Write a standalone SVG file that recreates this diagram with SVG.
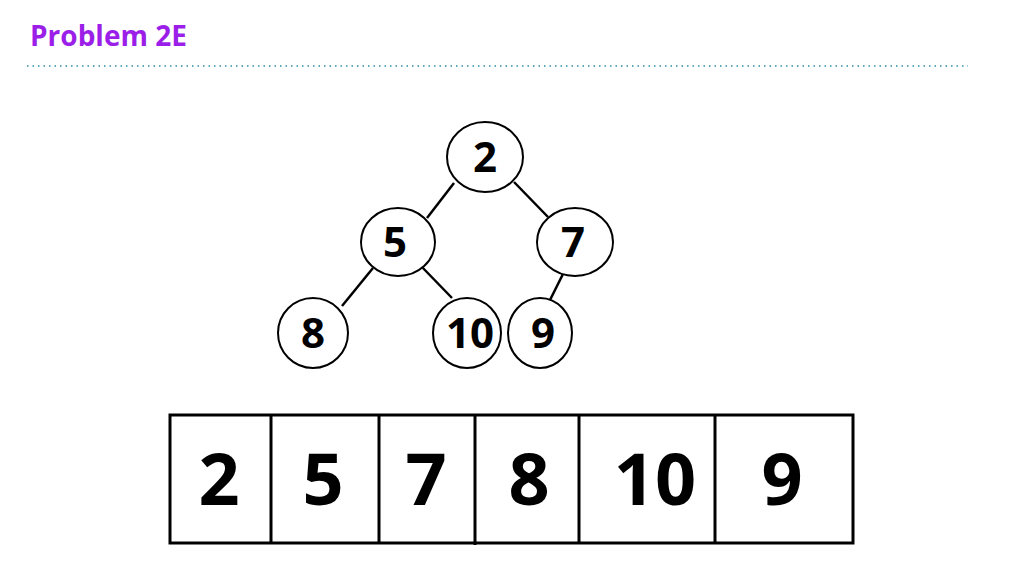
<svg xmlns="http://www.w3.org/2000/svg" width="1024" height="576" viewBox="0 0 1024 576">
<style>
.n ellipse{fill:#fff;stroke:#000;stroke-width:2}
.n text{font-family:"Open Sans","Liberation Sans",sans-serif;font-weight:bold;font-size:42px;text-anchor:middle;fill:#000}
.c line{stroke:#000;stroke-width:2.5}
.cell rect{fill:#fff;stroke:#000;stroke-width:3}
.cell text{font-family:"Open Sans","Liberation Sans",sans-serif;font-weight:bold;font-size:72px;text-anchor:middle;fill:#000}
</style>
<rect width="1024" height="576" fill="#fff"/>
<text x="30" y="46" font-family="Open Sans,Liberation Sans,sans-serif" font-weight="bold" font-size="28" fill="#9b1fe8">Problem 2E</text>
<line x1="27" y1="66" x2="968" y2="66" stroke="#2e8ea8" stroke-width="1.5" stroke-dasharray="1.5 4"/>
<g class="c">
<line x1="454" y1="183" x2="427" y2="218"/>
<line x1="514" y1="182" x2="548" y2="217"/>
<line x1="373" y1="268" x2="342" y2="306"/>
<line x1="421" y1="266" x2="452" y2="298"/>
<line x1="563" y1="274" x2="549" y2="302"/>
</g>
<g id="n2" class="n"><ellipse cx="485" cy="157" rx="38" ry="35"/><text x="485" y="172">2</text></g>
<g id="n5" class="n"><ellipse cx="398" cy="242" rx="37" ry="34"/><text x="395" y="257">5</text></g>
<g id="n7" class="n"><ellipse cx="575" cy="242" rx="38" ry="34"/><text x="573" y="257">7</text></g>
<g id="n8" class="n"><ellipse cx="313" cy="333" rx="35" ry="35"/><text x="313" y="348">8</text></g>
<g id="n10" class="n"><ellipse cx="467" cy="333" rx="34" ry="35"/><text x="470" y="348">10</text></g>
<g id="n9" class="n"><ellipse cx="540" cy="333" rx="32" ry="35"/><text x="543" y="348">9</text></g>
<g id="array" class="cell">
<rect x="170" y="415" width="683" height="128"/>
<line x1="271" y1="415" x2="271" y2="543" stroke="#000" stroke-width="3"/>
<line x1="379" y1="415" x2="379" y2="543" stroke="#000" stroke-width="3"/>
<line x1="475" y1="415" x2="475" y2="545" stroke="#000" stroke-width="3"/>
<line x1="579" y1="415" x2="579" y2="543" stroke="#000" stroke-width="3"/>
<line x1="715" y1="415" x2="715" y2="543" stroke="#000" stroke-width="3"/>
<text x="219" y="505">2</text>
<text x="323" y="505">5</text>
<text x="426" y="505">7</text>
<text x="529" y="505">8</text>
<text x="655" y="505">10</text>
<text x="782" y="505">9</text>
</g>
</svg>
